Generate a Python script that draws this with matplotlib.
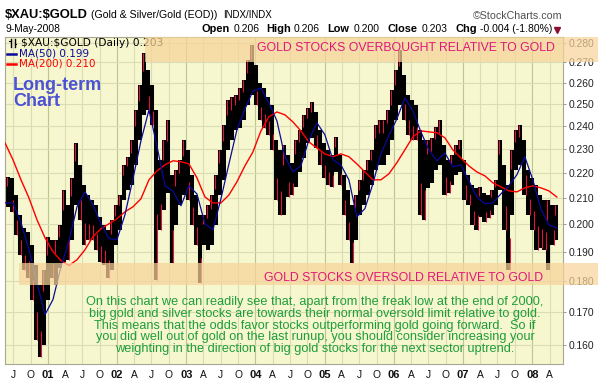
import numpy as np
import pandas as pd
import matplotlib
matplotlib.use('Agg')
import matplotlib.pyplot as plt
from matplotlib.patches import Rectangle
from matplotlib.lines import Line2D

# ---------------- data ----------------
bar_start = '2000-06-04'
bar_step = '507h'
bar_high = [.2184, .2180, .2112, .2036, .1987, .1973, .1926, .1856, .1788, .1839,
            .1955, .1944, .1944, .1998, .2132, .2074, .2180, .2326, .2233, .2152,
            .2112, .2093, .2074, .2028, .1998, .1980, .2017, .2074, .2112, .2233,
            .2267, .2339, .2472, .2589, .2748, .2664, .2589, .2472, .2254, .2339,
            .2427, .2192, .2212, .2254, .2339, .2296, .2192, .2112, .2036, .2036,
            .2074, .2112, .2192, .2296, .2404, .2518, .2532, .2542, .2575, .2613,
            .2711, .2788, .2687, .2599, .2575, .2532, .2495, .2339, .2296, .2317,
            .2275, .2242, .2339, .2383, .2450, .2481, .2509, .2463, .2383, .2326,
            .2296, .2275, .2352, .2275, .2192, .2132, .2074, .2112, .2172, .2212,
            .2254, .2296, .2404, .2427, .2427, .2472, .2565, .2661, .2763, .2637,
            .2542, .2518, .2495, .2383, .2339, .2339, .2348, .2396, .2427, .2317,
            .2254, .2275, .2317, .2339, .2254, .2192, .2152, .2140, .2144, .2120,
            .2112, .2132, .2172, .2339, .2233, .2152, .2296, .2383, .2404, .2339,
            .2212, .2180, .2152, .2112, .2093, .2093, .2074, .2074]
bar_low = [.2066, .2047, .1962, .1890, .1839, .1812, .1740, .1615, .1564, .1600,
           .1740, .1812, .1788, .1846, .1866, .1873, .1944, .2074, .2017, .1926,
           .1944, .1944, .1908, .1866, .1856, .1812, .1839, .1926, .1980, .2093,
           .2132, .2152, .2233, .2339, .2450, .2472, .2405, .1805, .1980, .2055,
           .2120, .1863, .1998, .2074, .2112, .2093, .1998, .1926, .1795, .1926,
           .1908, .1926, .1998, .2112, .2172, .2296, .2339, .2383, .2391, .2427,
           .2495, .2542, .2495, .2427, .2391, .2361, .2296, .2093, .2036, .2036,
           .2104, .2112, .2144, .2204, .2262, .2326, .2348, .2304, .2233, .2180,
           .2152, .2144, .2204, .2152, .2036, .1944, .1863, .1944, .2036, .2074,
           .2112, .2152, .2212, .2233, .2233, .2275, .2339, .2427, .2495, .2427,
           .2361, .2339, .2339, .2036, .2017, .2140, .2160, .2212, .2233, .2112,
           .2120, .2152, .2192, .2204, .2093, .2074, .1998, .1980, .2028, .2009,
           .2025, .2036, .2074, .2132, .1980, .1839, .2036, .2212, .2233, .2112,
           .2036, .1980, .1908, .1915, .1908, .1839, .1926, .1944]

ma_start = '2000-05-19'
ma_step = '1013h'
ma50 = [.2081, .2081, .2006, .1908, .1795, .1692, .1740, .1849, .1940, .2066,
        .2124, .2074, .2002, .1948, .1944, .2036, .2176, .2335, .2472, .2313,
        .2148, .2128, .2070, .2148, .2116, .2002, .1980, .2097, .2237, .2383,
        .2477, .2561, .2575, .2504, .2423, .2267, .2204, .2229, .2339, .2414,
        .2361, .2254, .2233, .2172, .2028, .2059, .2156, .2279, .2357, .2432,
        .2528, .2468, .2374, .2296, .2250, .2283, .2225, .2233, .2168, .2104,
        .2078, .2081, .2116, .2148, .2192, .2267, .2172, .2059, .1998, .1987]
ma200 = [.2326, .2254, .2172, .2100, .2017, .1951, .1901, .1870, .1853, .1873,
         .1908, .1955, .1984, .2002, .2021, .2047, .2066, .2097, .2172, .2208,
         .2233, .2250, .2246, .2237, .2180, .2104, .2081, .2081, .2112, .2164,
         .2229, .2287, .2378, .2441, .2463, .2450, .2418, .2378, .2330, .2304,
         .2279, .2267, .2279, .2267, .2237, .2204, .2172, .2172, .2196, .2242,
         .2296, .2352, .2378, .2374, .2370, .2348, .2296, .2262, .2229, .2204,
         .2188, .2160, .2144, .2128, .2124, .2140, .2148, .2140, .2128, .2104]

y_ticks = [0.160, 0.170, 0.180, 0.190, 0.200, 0.210, 0.220,
           0.230, 0.240, 0.250, 0.260, 0.270, 0.280]
overbought_zone = (0.2700, 0.2830)
oversold_zone = (0.1788, 0.1862)

title_sym = '$XAU:$GOLD'
title_desc = '(Gold & Silver/Gold (EOD))'
title_exch = 'INDX/INDX'
date_txt = '9-May-2008'
quote = [('Open', '0.206'), ('High', '0.206'), ('Low', '0.200'),
         ('Close', '0.203'), ('Chg', '-0.004 (-1.80%)')]
legend_main = '$XAU:$GOLD (Daily) 0.203'
legend_ma50 = 'MA(50) 0.199'
legend_ma200 = 'MA(200) 0.210'
note = ("On this chart we can readily see that, apart from the freak low at the end of 2000,\n"
        "big gold and silver stocks are towards their normal oversold limit relative to gold.\n"
        "This means that the odds favor stocks outperforming gold going forward.  So if\n"
        "you did well out of gold on the last runup, you should consider increasing your\n"
        "weighting in the direction of big gold stocks for the next sector uptrend.")

# ---------------- figure ----------------
W, H = 598, 389
fig = plt.figure(figsize=(W / 100, H / 100), dpi=100)
fig.patch.set_facecolor('white')
FONT = 'Liberation Sans'


def fx(x):
    return x / W


def fy(y):
    return 1 - y / H


ax = fig.add_axes([fx(5), fy(364), (563 - 5) / W, (364 - 37) / H])
ax.set_facecolor('#F6F6CF')
ax.set_yscale('log')
ax.set_ylim(0.1544, 0.2830)
ax.set_xlim(pd.Timestamp('2000-05-19'), pd.Timestamp('2008-06-11'))

bar_dates = pd.date_range(bar_start, periods=len(bar_high), freq=bar_step)
ma_dates = pd.date_range(ma_start, periods=len(ma50), freq=ma_step)

# grid
quarters = pd.date_range('2000-07-01', '2008-04-01', freq='QS')
for d in quarters:
    c = '#BCC690' if d.month == 1 else '#DADDB4'
    ax.axvline(d, color=c, lw=0.8, zorder=0.5)
for v in y_ticks:
    ax.axhline(v, color='#DADDB4', lw=0.8, zorder=0.5)

# price bars
hi = np.array(bar_high)
lo = np.array(bar_low)
ax.vlines(bar_dates, lo, hi, color='black', lw=2.9, zorder=2)
down = np.r_[False, hi[1:] < hi[:-1]]
up = ~down
off = pd.Timedelta(hours=150)
rng = hi - lo
ax.vlines(bar_dates[down] + off, lo[down], lo[down] + 0.35 * rng[down],
          color='#E8103C', lw=0.75, zorder=2.1)
ax.vlines(bar_dates[up] - off, hi[up] - 0.3 * rng[up], hi[up],
          color='#E8103C', lw=0.75, zorder=2.1)

ax.plot(ma_dates, ma200, color='#FF0000', lw=1.0, zorder=3)
ax.plot(ma_dates, ma50, color='#0A0A9A', lw=0.9, zorder=3.1)

# axes styling
for s in ax.spines.values():
    s.set_color('#A8A890')
    s.set_linewidth(0.8)
ax.yaxis.tick_right()
ax.set_yticks(y_ticks)
ax.set_yticklabels(['%.3f' % v for v in y_ticks])
ax.yaxis.set_minor_locator(matplotlib.ticker.NullLocator())
ax.tick_params(axis='y', which='major', length=2.5, width=0.6, color='#888888',
               pad=1.5, labelsize=7.4, labelcolor='#222222')
for t in ax.get_yticklabels():
    t.set_fontfamily(FONT)

xlabels = []
for d in quarters:
    if d.month == 1:
        xlabels.append('%02d' % (d.year % 100))
    else:
        xlabels.append({4: 'A', 7: 'J', 10: 'O'}[d.month])
ax.set_xticks(quarters)
ax.set_xticklabels(xlabels)
ax.tick_params(axis='x', length=0, pad=4.5, labelsize=7.4, labelcolor='#111111')
for t, d in zip(ax.get_xticklabels(), quarters):
    t.set_fontfamily(FONT)
    if d.month == 1:
        t.set_fontweight('bold')
        t.set_fontsize(8)

# legend inside plot
fig.text(fx(21), fy(43), legend_main, fontsize=7.7, family='DejaVu Sans',
         va='center', ha='left', parse_math=False, zorder=4)
fig.add_artist(Line2D([fx(7), fx(16)], [fy(53.5), fy(53.5)], color='#0A0A9A', lw=1.8))
fig.text(fx(19), fy(53.5), legend_ma50, fontsize=7.5, family='DejaVu Sans',
         color='#0A0A9A', va='center', ha='left', zorder=4)
fig.add_artist(Line2D([fx(7), fx(16)], [fy(64), fy(64)], color='#FF0000', lw=1.8))
fig.text(fx(19), fy(64), legend_ma200, fontsize=7.5, family='DejaVu Sans',
         color='#FF0000', va='center', ha='left', zorder=4)
# small bar icon
for xx in (10.5, 14.5):
    fig.add_artist(Line2D([fx(xx), fx(xx)], [fy(39), fy(47)], color='black', lw=1.0))
fig.add_artist(Line2D([fx(9), fx(10.5)], [fy(41), fy(41)], color='black', lw=0.8))
fig.add_artist(Line2D([fx(14.5), fx(16)], [fy(44), fy(44)], color='black', lw=0.8))

fig.text(fx(13), fy(85), 'Long-term', fontsize=13, fontweight='bold', family=FONT,
         color='#4C52D4', va='center', ha='left', zorder=4)
fig.text(fx(13), fy(102), 'Chart', fontsize=13, fontweight='bold', family=FONT,
         color='#4C52D4', va='center', ha='left', zorder=4)

# highlighted zones (drawn over everything like a marker pen)
ob_y0 = 42.7 + 540.2 * np.log(0.28 / overbought_zone[0])
ob_y1 = 42.7 + 540.2 * np.log(0.28 / overbought_zone[1])
os_y0 = 42.7 + 540.2 * np.log(0.28 / oversold_zone[0])
os_y1 = 42.7 + 540.2 * np.log(0.28 / oversold_zone[1])
band_col = '#F7D49A'
fig.add_artist(Rectangle((fx(145), fy(ob_y0)), (598 - 145) / W, (ob_y0 - ob_y1) / H,
                         transform=fig.transFigure, color=band_col, alpha=0.72,
                         lw=0, zorder=5))
fig.add_artist(Rectangle((fx(19), fy(os_y0)), (598 - 19) / W, (os_y0 - os_y1) / H,
                         transform=fig.transFigure, color=band_col, alpha=0.72,
                         lw=0, zorder=5))
fig.text(fx(555), fy(48), 'GOLD STOCKS OVERBOUGHT RELATIVE TO GOLD', fontsize=8.8,
         family=FONT, color='#E0167A', ha='right', va='center', zorder=6)
fig.text(fx(543), fy(278), 'GOLD STOCKS OVERSOLD RELATIVE TO GOLD', fontsize=8.8,
         family=FONT, color='#E0167A', ha='right', va='center', zorder=6)

fig.text(fx(315), fy(325.5), note, fontsize=9.2, family=FONT, color='#1E9E3A',
         ha='center', va='center', linespacing=0.95, zorder=6)

# header
fig.text(fx(5), fy(15), title_sym, fontsize=9.3, fontweight='bold', family=FONT,
         va='center', ha='left', parse_math=False)
fig.text(fx(91), fy(15.5), title_desc, fontsize=7.6, family=FONT, va='center', ha='left')
fig.text(fx(223), fy(15.5), title_exch, fontsize=7.0, family=FONT, va='center', ha='left')
fig.text(fx(5), fy(29), date_txt, fontsize=7.4, family=FONT, va='center', ha='left')
fig.text(fx(562), fy(16), '\u00a9StockCharts.com', fontsize=7.7, family=FONT,
         color='#505050', va='center', ha='right')
label_x = [202, 266, 327, 387, 455]
value_x = [234, 294, 354, 422, 480]
for (lab, val), lx, vx in zip(quote, label_x, value_x):
    fig.text(fx(lx), fy(29), lab, fontsize=7.9, fontweight='bold', family=FONT,
             va='center', ha='left')
    fig.text(fx(vx), fy(29), val, fontsize=7.5, family=FONT, va='center', ha='left')
fig.add_artist(Line2D([fx(557)], [fy(29.5)], marker='v', color='#8B1030',
                      markersize=4, lw=0))

fig.savefig('out.png', dpi=100, facecolor='white')
